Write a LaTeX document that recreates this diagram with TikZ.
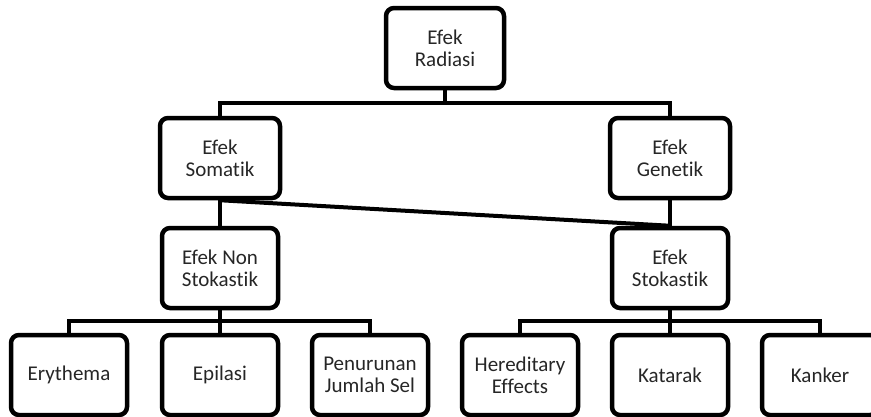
\documentclass[tikz,border=0pt]{standalone}
\usepackage{fontspec}
\setmainfont{Carlito}[Ligatures=NoCommon]
\usepackage{tikz}

\begin{document}
\begin{tikzpicture}[x=1pt, y=1pt,
    box/.style={draw, line width=4.5pt, rounded corners=8pt, align=center,
        minimum width=116pt, minimum height=80pt, text=black!85,
        font=\fontsize{21}{22}\selectfont},
    link/.style={line width=4pt}]
\useasboundingbox (0,0) rectangle (871,-416);
\clip (0,0) rectangle (871,-416);
\node[box, minimum width=118pt] (rad) at (445,-48) {Efek\\Radiasi};
\node[box, minimum width=120pt] (som) at (220,-158) {Efek\\Somatik};
\node[box, minimum width=120pt] (gen) at (670,-158) {Efek\\Genetik};
\node[box] (non) at (220,-268) {Efek Non\\Stokastik};
\node[box] (sto) at (670,-268) {Efek\\Stokastik};
\node[box] (ery) at (69,-375) {Erythema};
\node[box] (epi) at (220,-375) {Epilasi};
\node[box] (pen) at (370,-375) {Penurunan\\Jumlah Sel};
\node[box] (her) at (520,-375) {Hereditary\\Effects};
\node[box] (kat) at (670,-375) {Katarak};
\node[box] (kan) at (820,-375) {Kanker};
\coordinate (top) at (0,-103);
\coordinate (low) at (0,-321);
\draw[link] (rad.south) -- (rad.south |- top);
\draw[link] (som.north) -- (som.north |- top) -- (gen.north |- top) -- (gen.north);
\draw[link] (som.south) -- (non.north);
\draw[link] (gen.south) -- (sto.north);
\draw[link] (som.south) -- (sto.north);
\draw[link] (non.south) -- (non.south |- low);
\draw[link] (ery.north) -- (ery.north |- low) -- (pen.north |- low) -- (pen.north);
\draw[link] (epi.north) -- (epi.north |- low);
\draw[link] (sto.south) -- (sto.south |- low);
\draw[link] (her.north) -- (her.north |- low) -- (kan.north |- low) -- (kan.north);
\draw[link] (kat.north) -- (kat.north |- low);
\end{tikzpicture}
\end{document}
